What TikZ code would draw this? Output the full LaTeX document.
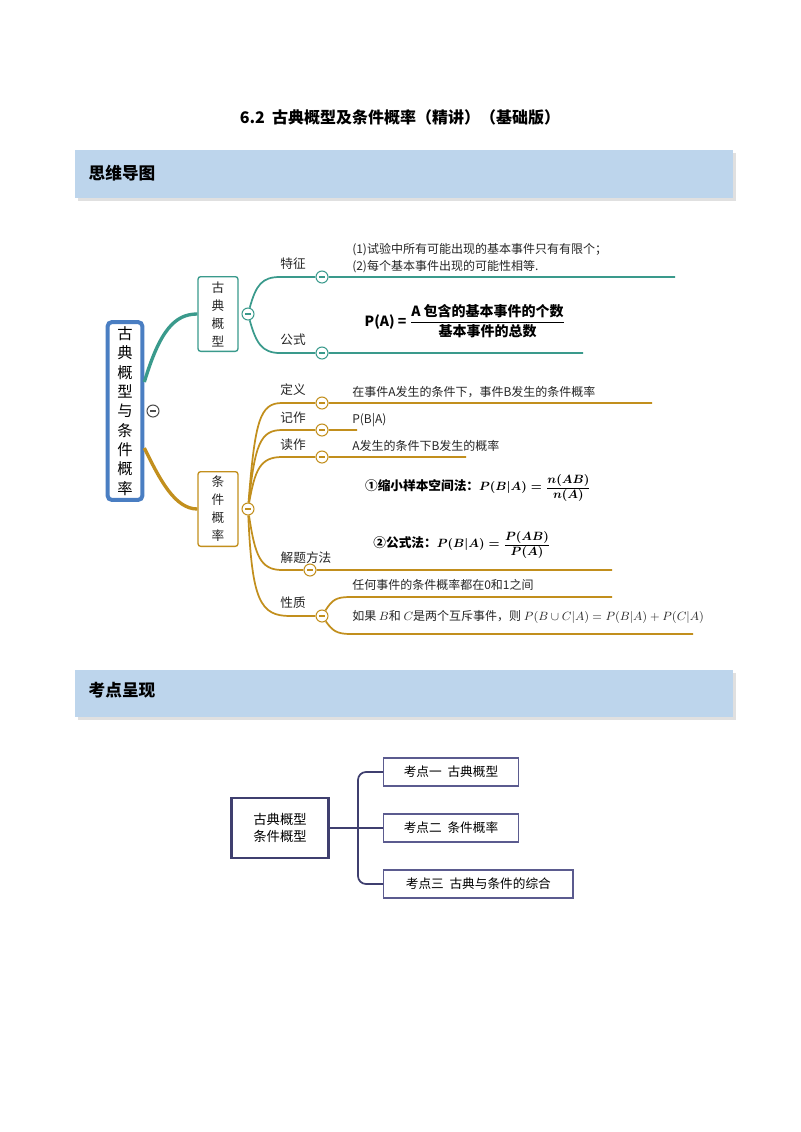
\documentclass[tikz,border=0pt]{standalone}
\usepackage{amsmath,amsbsy}
\usepackage{fontspec}
\setmainfont{Liberation Serif}
\newfontfamily\cjk{Noto Sans CJK SC}
\newfontfamily\hei{Noto Sans CJK SC}
\newfontfamily\ssf{Liberation Sans}
\definecolor{tealc}{HTML}{3A9A8C}
\definecolor{goldc}{HTML}{C28F1D}
\definecolor{bluec}{HTML}{4A7EC2}
\definecolor{barc}{HTML}{BDD5EC}
\definecolor{navy}{HTML}{3F3F6F}
\definecolor{purp}{HTML}{5B5B8F}
\tikzset{
 mc/.style={circle,draw=#1,fill=white,line width=0.8pt,inner sep=0pt,minimum size=9pt,
  path picture={\draw[#1,line width=0.9pt] ([xshift=-2.2pt]path picture bounding box.center)--([xshift=2.2pt]path picture bounding box.center);}},
 lbl/.style={font=\cjk\fontsize{9.5}{11}\selectfont,text=black!85},
 txt/.style={font=\cjk\fontsize{9}{11}\selectfont,anchor=west,text=black!85,inner sep=0pt},
 vbox/.style={draw=#1,rounded corners=2pt,line width=1pt,fill=white,align=center,font=\cjk\fontsize{9.5}{13.5}\selectfont,text=black!85},
 kbox/.style={draw=purp,line width=1pt,minimum height=21pt,anchor=west,font=\cjk\fontsize{9.5}{11}\selectfont,inner xsep=10pt},
 tb/.style={line width=1.3pt,#1},
}
\begin{document}
\begin{tikzpicture}[x=0.75pt,y=-0.75pt]
\useasboundingbox[fill=white] (0,0) rectangle (800,1132);
\node[font=\cjk\bfseries\fontsize{12}{14}\selectfont] (title) at (400,117) {6.2\ \ 古典概型及条件概率（精讲）（基础版）};
% bars
\fill[black!12] (78,153) rectangle (736,201);
\fill[barc] (75,150) rectangle (733,198);
\node[anchor=west,font=\hei\bfseries\fontsize{12.5}{14}\selectfont] (h1) at (84,173) {思维导图};
\fill[black!12] (78,673) rectangle (736,720);
\fill[barc] (75,670) rectangle (733,717);
\node[anchor=west,font=\hei\bfseries\fontsize{12.5}{14}\selectfont] (h2) at (84,690) {考点呈现};
% root
\node[draw=bluec,line width=3pt,rounded corners=3pt,minimum width=26pt,minimum height=130pt,fill=white,align=center,font=\cjk\fontsize{11.5}{14.5}\selectfont] (root) at (125,411) {古\\典\\概\\型\\与\\条\\件\\概\\率};
\node[mc=black!70] (rc) at (153,411) {};
% classical
\node[vbox=tealc,minimum width=30pt,minimum height=56pt] (gd) at (218,314) {古\\典\\概\\型};
\draw[tealc,line width=2.5pt] (root.east|-0,382) .. controls (160,330) and (175,314) .. (gd.west);
\node[mc=tealc] (gc) at (248,314) {};
\node[mc=tealc] (c1) at (322,277) {};
\node[mc=tealc] (c2) at (322,353) {};
\coordinate (e1) at (675,277); \coordinate (e2) at (583,353);
\draw[tb=tealc] (gc) .. controls (256,285) and (262,277) .. (280,277) -- (c1) -- (e1);
\draw[tb=tealc] (gc) .. controls (256,343) and (262,353) .. (280,353) -- (c2) -- (e2);
\node[lbl] (l1) at (293,264) {特征};
\node[lbl] (l2) at (293,340) {公式};
\node[txt] (t1) at (352,250) {(1)试验中所有可能出现的基本事件只有有限个；};
\node[txt] (t2) at (352,267) {(2)每个基本事件出现的可能性相等.};
\node[font=\hei\bfseries\fontsize{10.5}{12}\selectfont] (f1) at (465,321) {P(A) = $\dfrac{\text{\hei\bfseries A 包含的基本事件的个数}}{\text{\hei\bfseries 基本事件的总数}}$};
% conditional
\node[vbox=goldc,minimum width=30pt,minimum height=56pt] (tj) at (218,509) {条\\件\\概\\率};
\draw[goldc,line width=2.5pt] (root.east|-0,448) .. controls (160,480) and (175,509) .. (tj.west);
\node[mc=goldc] (tc) at (248,509) {};
\node[mc=goldc] (d1) at (322,403) {};
\node[mc=goldc] (d2) at (322,430) {};
\node[mc=goldc] (d3) at (322,457) {};
\node[mc=goldc] (d4) at (310,570) {};
\node[mc=goldc] (d5) at (322,616) {};
\coordinate (f1e) at (652,403); \coordinate (f2e) at (357,430); \coordinate (f3e) at (466,457);
\coordinate (f4e) at (612,570); \coordinate (f5a) at (612,597); \coordinate (f5b) at (693,634);
\draw[tb=goldc] (tc) .. controls (255,420) and (260,403) .. (282,403) -- (d1) -- (f1e);
\draw[tb=goldc] (tc) .. controls (255,445) and (260,430) .. (282,430) -- (d2) -- (f2e);
\draw[tb=goldc] (tc) .. controls (255,470) and (260,457) .. (282,457) -- (d3) -- (f3e);
\draw[tb=goldc] (tc) .. controls (255,555) and (260,570) .. (282,570) -- (d4) -- (f4e);
\draw[tb=goldc] (tc) .. controls (252,600) and (260,616) .. (290,616) -- (d5);
\draw[tb=goldc] (d5) .. controls (332,600) and (336,597) .. (350,597) -- (f5a);
\draw[tb=goldc] (d5) .. controls (332,630) and (336,634) .. (350,634) -- (f5b);
\node[lbl] (m1) at (293,390) {定义};
\node[lbl] (m2) at (293,418) {记作};
\node[lbl] (m3) at (293,445) {读作};
\node[lbl] (m4) at (306,558) {解题方法};
\node[lbl] (m5) at (293,603) {性质};
\node[txt] (s1) at (352,392) {在事件A发生的条件下，事件B发生的条件概率};
\node[txt] (s2) at (352,420) {P(B|A)};
\node[txt] (s3) at (352,446) {A发生的条件下B发生的概率};
\node[font=\hei\bfseries\fontsize{9.5}{11}\selectfont] (fa) at (478,488) {①缩小样本空间法：$\boldsymbol{P(B|A)=\dfrac{n(AB)}{n(A)}}$};
\node[font=\hei\bfseries\fontsize{9.5}{11}\selectfont] (fb) at (462,545) {②公式法：$\boldsymbol{P(B|A)=\dfrac{P(AB)}{P(A)}}$};
\node[txt] (s4) at (352,585) {任何事件的条件概率都在0和1之间};
\node[txt] (s5) at (352,617) {如果 $B$和 $C$是两个互斥事件，则 $P(B\cup C|A)=P(B|A)+P(C|A)$};
% bottom
\node[draw=navy,line width=2.2pt,minimum width=73pt,minimum height=45pt,align=center,font=\cjk\fontsize{10}{13}\selectfont] (kb) at (280,828) {古典概型\\条件概型};
\node[kbox,minimum width=101pt] (k1) at (383,772) {考点一\ \ 古典概型};
\node[kbox,minimum width=101pt] (k2) at (383,828) {考点二\ \ 条件概率};
\node[kbox,minimum width=142pt] (k3) at (383,884) {考点三\ \ 古典与条件的综合};
\draw[navy,line width=2pt] (kb.east) -- (358,828);
\draw[navy,line width=1.3pt,rounded corners=6pt] (k1.west) -- (358,772) -- (358,884) -- (k3.west);
\draw[navy,line width=1.3pt] (358,828) -- (k2.west);
\end{tikzpicture}
\end{document}
